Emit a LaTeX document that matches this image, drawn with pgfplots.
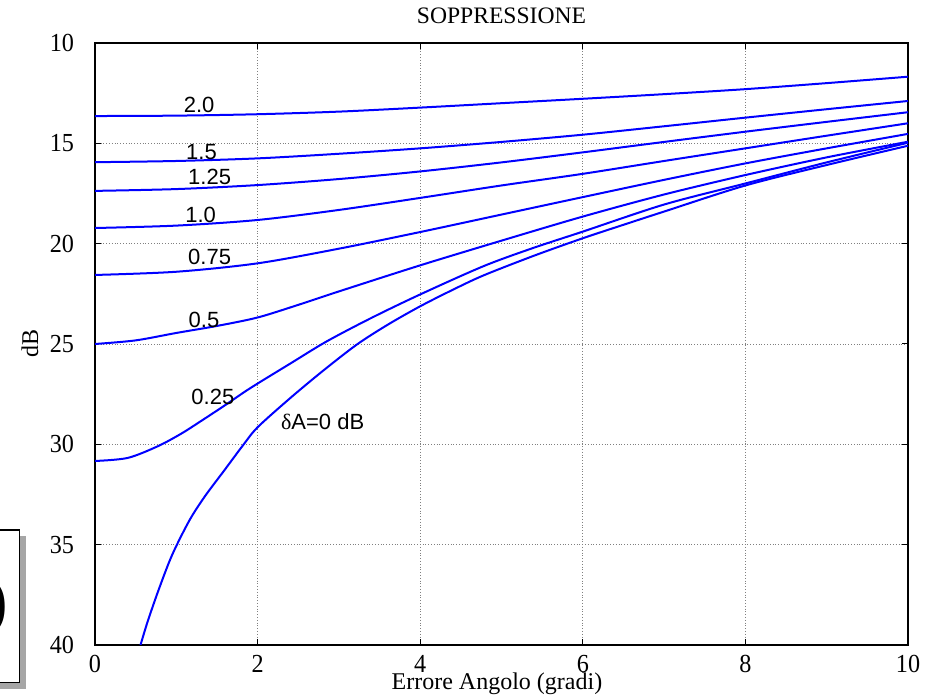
\documentclass[border=0pt]{standalone}
\usepackage{fontspec}
\setmainfont{Liberation Serif}
\newfontfamily\arial{Liberation Sans}
\newfontfamily\tickfont[FakeStretch=0.93]{Liberation Serif}
\usepackage{pgfplots}
\pgfplotsset{compat=1.18}

\begin{document}
\begin{tikzpicture}
\begin{axis}[
    name=ax,
    scale only axis,
    width=406.5pt, height=301pt,
    xmin=0, xmax=10, ymin=10, ymax=40,
    y dir=reverse,
    xtick={0,2,...,10}, ytick={10,15,...,40},
    tick align=inside,
    major tick length=3pt,
    tick style={black, line width=0.5pt},
    xmajorgrids, ymajorgrids,
    grid style={densely dotted, gray, line width=0.4pt},
    axis line style={black, line width=0.8pt},
    /pgf/number format/assume math mode=true,
    tick label style={font=\tickfont\fontsize{13}{13}\selectfont},
    xticklabel style={yshift=-1.5pt},
    yticklabel style={xshift=-7pt},
    curve/.style={blue, line width=1pt, line join=round, no markers, smooth, tension=0.5},
]
% 2.0 dB
\addplot[curve] coordinates {(0,13.64) (1,13.62) (2,13.55) (3,13.42) (4,13.22) (5,13.0) (6,12.78) (7,12.55) (8,12.3) (9,12.0) (10,11.68)};
% 1.5 dB
\addplot[curve] coordinates {(0,15.94) (1,15.88) (2,15.75) (3,15.52) (4,15.25) (5,14.93) (6,14.57) (7,14.15) (8,13.72) (9,13.3) (10,12.89)};
% 1.25 dB
\addplot[curve] coordinates {(0,17.37) (1,17.28) (2,17.08) (3,16.78) (4,16.4) (5,15.95) (6,15.45) (7,14.93) (8,14.42) (9,13.93) (10,13.45)};
% 1.0 dB
\addplot[curve] coordinates {(0,19.22) (1,19.1) (2,18.82) (3,18.32) (4,17.72) (5,17.1) (6,16.52) (7,15.88) (8,15.25) (9,14.62) (10,14.0)};
% 0.75 dB
\addplot[curve] coordinates {(0,21.56) (1,21.4) (2,20.98) (3,20.25) (4,19.42) (5,18.55) (6,17.68) (7,16.82) (8,16.0) (9,15.25) (10,14.53)};
% 0.5 dB
\addplot[curve] coordinates {(0,25.0) (0.5,24.82) (1,24.45) (1.5,24.1) (2,23.68) (2.5,23.05) (3,22.38) (4,21.08) (5,19.85) (6,18.65) (7,17.55) (8,16.58) (9,15.7) (10,14.92)};
% 0.25 dB
\addplot[curve] coordinates {(0,30.83) (0.4,30.68) (0.77,30.1) (1.06,29.47) (1.3,28.85) (1.6,28.05) (1.91,27.2) (2.4,25.98) (2.85,24.87) (3.4,23.7) (4,22.53) (4.78,21.12) (5.4,20.2) (6,19.4) (7,18.05) (8,17.0) (9,15.95) (10,14.97)};
% 0 dB
\addplot[curve] coordinates {(0.56,40) (0.65,38.8) (0.79,37.17) (0.95,35.5) (1.16,33.8) (1.35,32.6) (1.59,31.3) (1.82,30.05) (2.0,29.15) (2.4,27.7) (2.8,26.35) (3.22,25.03) (3.6,24.04) (4,23.12) (4.4,22.3) (4.78,21.58) (5.4,20.6) (6,19.73) (6.5,19.06) (7,18.4) (8,17.1) (9,16.08) (10,15.12)};

\begin{scope}[every node/.style={font=\arial\fontsize{11}{11}\selectfont, inner sep=0pt}]
\node at (axis cs:1.28,13.09) {2.0};
\node at (axis cs:1.31,15.43) {1.5};
\node at (axis cs:1.41,16.68) {1.25};
\node at (axis cs:1.30,18.57) {1.0};
\node at (axis cs:1.41,20.66) {0.75};
\node at (axis cs:1.34,23.80) {0.5};
\node at (axis cs:1.45,27.64) {0.25};
\node at (axis cs:2.80,28.88) {{\rmfamily δ}A=0 dB};
\end{scope}
\end{axis}
% title and axis labels
\node[anchor=base, inner sep=0pt, font=\fontsize{11.8}{12}\selectfont] at ([yshift=9.5pt]ax.north) {SOPPRESSIONE};
\node[anchor=base, inner sep=0pt, font=\fontsize{12}{12}\selectfont] at ([shift={(-2.25pt,-22.5pt)}]ax.south) {Errore Angolo (gradi)};
\node[rotate=90, inner sep=0pt, font=\fontsize{12}{12}\selectfont] at ([xshift=-32.5pt]ax.west) {dB};
% partially visible framed box at the lower left
\fill[gray!70] ([shift={(-50pt,-22.1pt)}]ax.south west) rectangle ([shift={(-34.4pt,54.25pt)}]ax.south west);
\filldraw[fill=white, draw=black, line width=0.6pt] ([shift={(-50pt,-18.85pt)}]ax.south west) rectangle ([shift={(-37.7pt,57.5pt)}]ax.south west);
\node[anchor=east, inner sep=0pt, font=\fontsize{34}{34}\selectfont] at ([shift={(-43pt,19pt)}]ax.south west) {)};
\pgfresetboundingbox
\path[use as bounding box] ([shift={(-47.5pt,-26.5pt)}]ax.south west) rectangle ([shift={(12pt,21.5pt)}]ax.north east);
\end{tikzpicture}
\end{document}
